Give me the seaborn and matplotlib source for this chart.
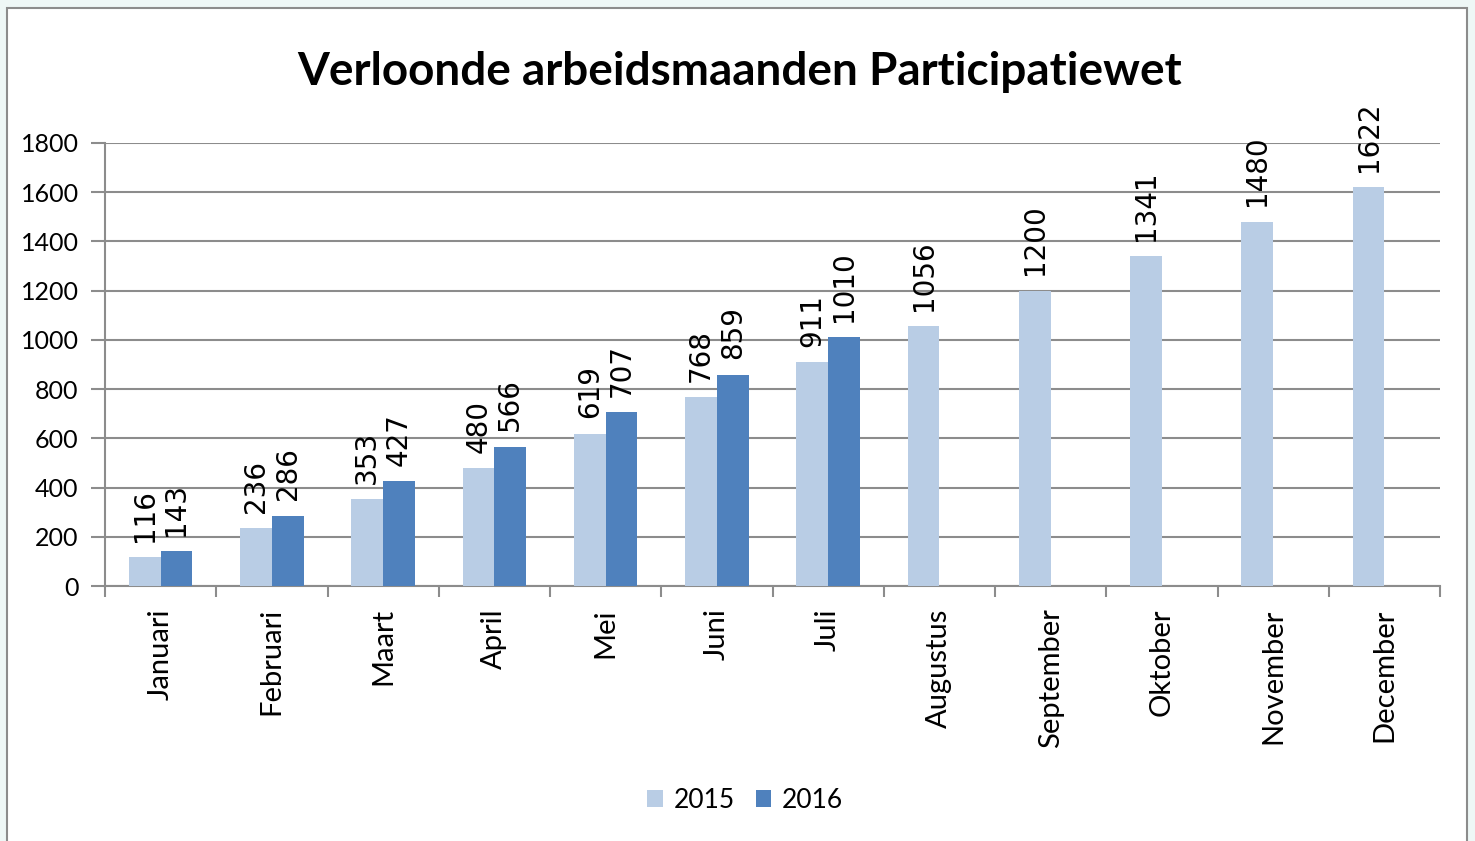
import numpy as np
import pandas as pd
import matplotlib
matplotlib.use("Agg")
import matplotlib.pyplot as plt
import matplotlib.patches as mpatches
import seaborn as sns

MONTHS = ["Januari", "Februari", "Maart", "April", "Mei", "Juni", "Juli",
          "Augustus", "September", "Oktober", "November", "December"]
VALUES_2015 = [116, 236, 353, 480, 619, 768, 911, 1056, 1200, 1341, 1480, 1622]
VALUES_2016 = [143, 286, 427, 566, 707, 859, 1010]
YEARS = ["2015", "2016"]
COLORS = {"2015": "#B9CDE5", "2016": "#4F81BD"}

sns.set_theme(style="white")
plt.rcParams["font.family"] = ["Lato", "DejaVu Sans"]
plt.rcParams.update({"text.color": "black", "xtick.color": "black",
                     "ytick.color": "black", "axes.labelcolor": "black"})

rows = []
for m, v in zip(MONTHS, VALUES_2015):
    rows.append({"maand": m, "jaar": "2015", "waarde": v})
for m, v in zip(MONTHS, VALUES_2016):
    rows.append({"maand": m, "jaar": "2016", "waarde": v})
df = pd.DataFrame(rows)

fig = plt.figure(figsize=(14.75, 8.41), dpi=100, facecolor="#EEF7F6")
# white chart box with grey border
fig.patches.append(mpatches.Rectangle((7 / 1475, -0.01), 1460 / 1475, 1 - 8 / 841 + 0.01,
                                      transform=fig.transFigure, facecolor="white",
                                      edgecolor="#8C8C8C", linewidth=1.5, zorder=-10))

ax = fig.add_axes([105 / 1475, 1 - 586 / 841, 1335 / 1475, 443 / 841])
ax.set_facecolor("none")
sns.barplot(data=df, x="maand", y="waarde", hue="jaar", order=MONTHS, hue_order=YEARS,
            palette=COLORS, width=0.57, dodge=True, ax=ax, saturation=1, zorder=3,
            linewidth=0, edgecolor="none")

for cont in ax.containers:
    ax.bar_label(cont, rotation=90, padding=11, fontsize=20,
                 family="DejaVu Sans", color="black")

ax.set_ylim(0, 1800)
ax.set_yticks(range(0, 1801, 200))
ax.set_xlim(-0.5, 11.5)
ax.yaxis.grid(True, color="#8C8C8C", linewidth=1.5, zorder=0)
ax.set_axisbelow(True)
for s in ["top", "right"]:
    ax.spines[s].set_visible(False)
for s in ["left", "bottom"]:
    ax.spines[s].set_color("#8C8C8C")
    ax.spines[s].set_linewidth(1.5)

ax.set_xlabel("")
ax.set_ylabel("")
ax.tick_params(axis="y", left=True, length=10, width=1.5, color="#8C8C8C",
               labelsize=18, pad=9, labelcolor="black")
ax.set_xticks(range(len(MONTHS)))
ax.set_xticklabels(MONTHS, rotation=90, fontsize=21)
ax.set_xticks(np.arange(-0.5, 12, 1), minor=True)
ax.tick_params(axis="x", which="major", length=0, pad=16, labelcolor="black")
ax.tick_params(axis="x", which="minor", bottom=True, length=8, width=1.5, color="#8C8C8C")

fig.text(740 / 1475, 1 - 72 / 841, "Verloonde arbeidsmaanden Participatiewet",
         ha="center", va="center", fontsize=33, fontweight="bold", color="black")

handles, labels = ax.get_legend_handles_labels()
if ax.legend_:
    ax.legend_.remove()
fig.legend(handles, labels, loc="center", bbox_to_anchor=(745 / 1475, 1 - 800 / 841),
           ncol=2, frameon=False, fontsize=19, handlelength=0.6, handleheight=0.6,
           handletextpad=0.4, columnspacing=0.8, labelcolor="black")

fig.savefig("out.png", dpi=100, facecolor=fig.get_facecolor())
